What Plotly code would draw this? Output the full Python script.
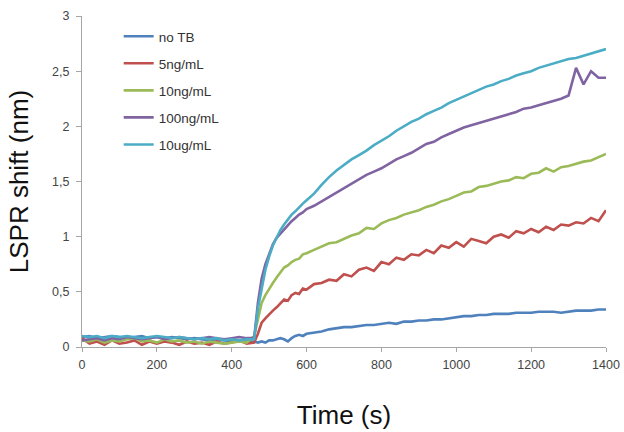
import plotly.graph_objects as go

time_s = [0, 20, 40, 60, 80, 100, 120, 140, 160, 180, 200, 220, 240, 260, 280, 300, 320, 340, 360, 380, 400, 420, 440, 460,
          470, 480, 490, 500, 510, 520, 530, 540, 550, 560, 570, 580, 590, 600,
          620, 640, 660, 680, 700, 720, 740, 760, 780, 800, 820, 840, 860, 880, 900, 920, 940, 960, 980, 1000,
          1020, 1040, 1060, 1080, 1100, 1120, 1140, 1160, 1180, 1200, 1220, 1240, 1260, 1280, 1300, 1320, 1340, 1360, 1380, 1400]

no_tb = [0.09, 0.10, 0.08, 0.09, 0.10, 0.09, 0.08, 0.09, 0.10, 0.08, 0.09, 0.08, 0.09, 0.08, 0.07, 0.08, 0.07, 0.06, 0.07, 0.06, 0.05, 0.06, 0.05, 0.05,
         0.04, 0.05, 0.04, 0.06, 0.06, 0.07, 0.08, 0.07, 0.05, 0.08, 0.10, 0.11, 0.10, 0.12,
         0.13, 0.14, 0.16, 0.17, 0.18, 0.18, 0.19, 0.20, 0.20, 0.21, 0.22, 0.21, 0.23, 0.23, 0.24, 0.24, 0.25, 0.25, 0.26, 0.27,
         0.28, 0.28, 0.29, 0.29, 0.30, 0.30, 0.30, 0.31, 0.31, 0.31, 0.32, 0.32, 0.32, 0.31, 0.32, 0.33, 0.33, 0.33, 0.34, 0.34]

ng5 = [0.08, 0.03, 0.05, 0.02, 0.06, 0.03, 0.04, 0.06, 0.02, 0.05, 0.03, 0.05, 0.04, 0.02, 0.05, 0.03, 0.04, 0.02, 0.05, 0.03, 0.04, 0.06, 0.03, 0.04,
       0.12, 0.22, 0.26, 0.30, 0.33, 0.36, 0.40, 0.43, 0.42, 0.47, 0.49, 0.48, 0.53, 0.52,
       0.57, 0.58, 0.61, 0.60, 0.66, 0.64, 0.70, 0.72, 0.69, 0.77, 0.75, 0.81, 0.79, 0.84, 0.83, 0.88, 0.85, 0.92, 0.90, 0.95,
       0.91, 0.98, 0.96, 0.94, 1.00, 1.02, 0.99, 1.05, 1.03, 1.07, 1.04, 1.09, 1.06, 1.11, 1.10, 1.13, 1.12, 1.17, 1.14, 1.24]

ng10 = [0.06, 0.05, 0.07, 0.04, 0.06, 0.05, 0.07, 0.08, 0.05, 0.06, 0.04, 0.07, 0.05, 0.06, 0.04, 0.05, 0.03, 0.05, 0.04, 0.03, 0.04, 0.05, 0.04, 0.10,
        0.25, 0.40, 0.47, 0.53, 0.58, 0.63, 0.68, 0.72, 0.74, 0.77, 0.79, 0.80, 0.84, 0.85,
        0.88, 0.91, 0.94, 0.95, 0.98, 1.01, 1.03, 1.08, 1.07, 1.12, 1.15, 1.17, 1.20, 1.22, 1.24, 1.27, 1.29, 1.32, 1.34, 1.37,
        1.40, 1.41, 1.45, 1.46, 1.48, 1.50, 1.51, 1.54, 1.53, 1.57, 1.58, 1.62, 1.59, 1.63, 1.64, 1.66, 1.68, 1.69, 1.72, 1.75]

ng100 = [0.06, 0.07, 0.08, 0.06, 0.08, 0.07, 0.09, 0.08, 0.07, 0.08, 0.09, 0.07, 0.08, 0.09, 0.08, 0.07, 0.08, 0.09, 0.08, 0.07, 0.08, 0.09, 0.08, 0.08,
         0.40, 0.62, 0.75, 0.85, 0.93, 0.99, 1.03, 1.07, 1.11, 1.14, 1.17, 1.20, 1.22, 1.25,
         1.28, 1.32, 1.36, 1.40, 1.44, 1.48, 1.52, 1.56, 1.59, 1.62, 1.66, 1.70, 1.73, 1.76, 1.80, 1.84, 1.86, 1.90, 1.93, 1.96,
         1.99, 2.01, 2.03, 2.05, 2.07, 2.09, 2.11, 2.13, 2.16, 2.17, 2.19, 2.21, 2.23, 2.25, 2.28, 2.53, 2.38, 2.50, 2.44, 2.44]

ug10 = [0.10, 0.09, 0.10, 0.08, 0.10, 0.09, 0.10, 0.09, 0.08, 0.09, 0.10, 0.09, 0.08, 0.09, 0.08, 0.07, 0.08, 0.07, 0.08, 0.06, 0.07, 0.06, 0.07, 0.07,
        0.35, 0.52, 0.70, 0.82, 0.92, 0.99, 1.06, 1.11, 1.16, 1.20, 1.23, 1.27, 1.30, 1.33,
        1.39, 1.47, 1.54, 1.60, 1.65, 1.70, 1.74, 1.78, 1.83, 1.87, 1.91, 1.96, 2.00, 2.04, 2.07, 2.11, 2.14, 2.17, 2.21, 2.24,
        2.27, 2.30, 2.33, 2.36, 2.38, 2.41, 2.43, 2.46, 2.48, 2.50, 2.53, 2.55, 2.57, 2.59, 2.61, 2.62, 2.64, 2.66, 2.68, 2.70]

series_names = ["no TB", "5ng/mL", "10ng/mL", "100ng/mL", "10ug/mL"]
series_values = [no_tb, ng5, ng10, ng100, ug10]
series_colors = ["#4F81BD", "#C0504D", "#9BBB59", "#8064A2", "#4BACC6"]

y_tickvals = [0, 0.5, 1, 1.5, 2, 2.5, 3]
y_ticktext = ["0", "0,5", "1", "1,5", "2", "2,5", "3"]
x_tickvals = [0, 200, 400, 600, 800, 1000, 1200, 1400]

fig = go.Figure()
for i, (name, vals, col) in enumerate(zip(series_names, series_values, series_colors)):
    fig.add_trace(go.Scatter(x=time_s, y=vals, name=name, mode="lines",
                             legendgroup=f"g{i}",
                             line=dict(color=col, width=2.6)))

axis_font = dict(family="Liberation Sans, Arial, sans-serif", size=12.5, color="#444")
fig.update_layout(
    width=624, height=432,
    margin=dict(l=82, r=18, t=16, b=85),
    paper_bgcolor="white", plot_bgcolor="white",
    font=dict(family="Liberation Sans, Arial, sans-serif"),
    showlegend=True,
    legend=dict(x=0.07, y=0.985, xanchor="left", yanchor="top",
                bgcolor="rgba(0,0,0,0)", font=dict(size=13.5, color="#333"),
                tracegroupgap=6.5, itemwidth=30),
    xaxis=dict(range=[0, 1400], tickvals=x_tickvals, showgrid=False, zeroline=False,
               showline=True, linecolor="#a6a6a6", linewidth=1, automargin=False,
               ticks="outside", ticklen=4, tickcolor="#a6a6a6", tickfont=axis_font,
               ticklabelstandoff=2,
               title=dict(text="Time (s)", font=dict(size=26, color="#111"), standoff=34)),
    yaxis=dict(range=[0, 3], tickvals=y_tickvals, ticktext=y_ticktext, showgrid=False, zeroline=False,
               showline=True, linecolor="#a6a6a6", linewidth=1, automargin=False,
               ticks="outside", ticklen=5, tickcolor="#a6a6a6", tickfont=axis_font,
               ticklabelstandoff=4,
               title=dict(text="LSPR shift (nm)", font=dict(size=26, color="#111"), standoff=16)),
)

fig.write_html("out.html", config={"displayModeBar": False},
               post_script="document.body.style.margin='0';document.body.style.overflow='hidden';")
